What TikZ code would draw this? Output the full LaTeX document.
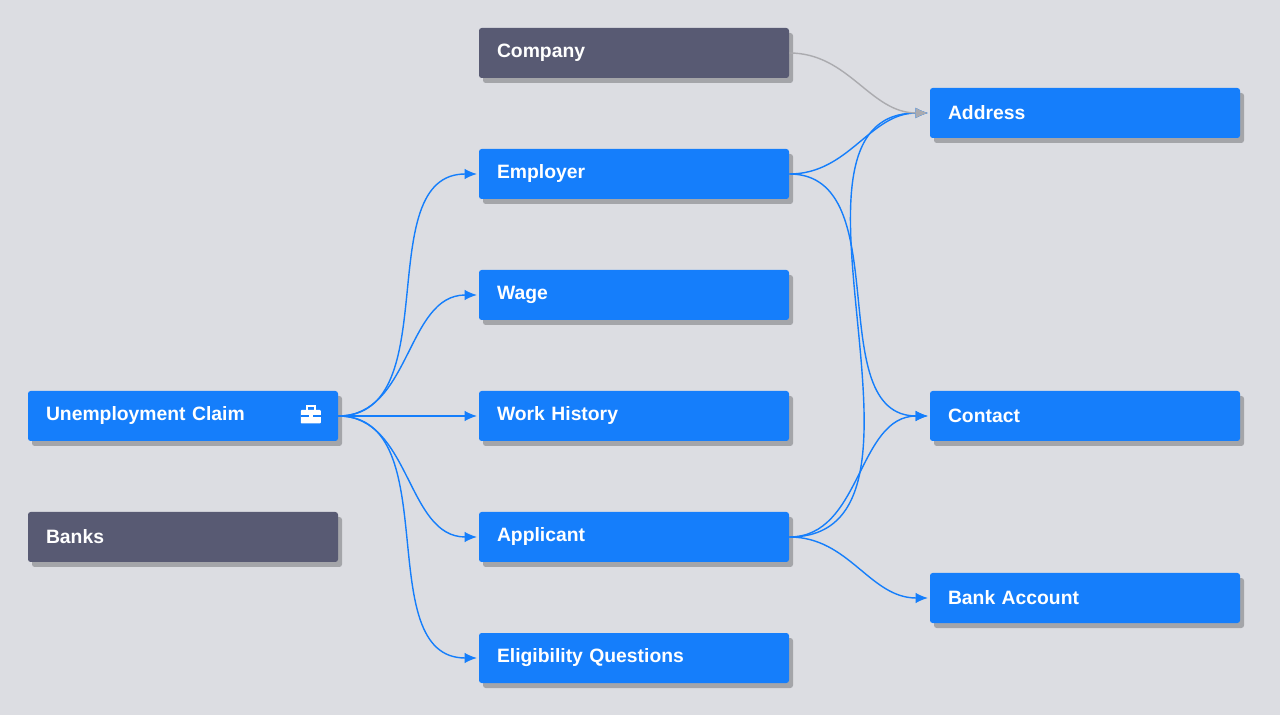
\documentclass[tikz,border=0pt]{standalone}
\usepackage{fontspec}
\setmainfont{Liberation Sans}
\usetikzlibrary{positioning,shadows,arrows.meta}
\definecolor{bgcol}{HTML}{DCDDE2}
\definecolor{entblue}{HTML}{157EFB}
\definecolor{entdark}{HTML}{585A73}
\definecolor{linkgray}{HTML}{ABABAF}
\tikzset{
  entity/.style={fill=entblue, text=white, rounded corners=1.5pt,
    minimum width=6.2cm, minimum height=1cm, text width=5.48cm,
    inner xsep=0.36cm, align=left, font=\fontsize{11}{13}\selectfont\bfseries,
    drop shadow={shadow xshift=0.08cm, shadow yshift=-0.1cm, opacity=0.25, fill=black}},
  other/.style={entity, fill=entdark},
  link/.style={-{Latex[length=7pt,width=6pt]}, entblue, thick, shorten >=1pt},
  greylink/.style={link, linkgray}
}
\begin{document}
\begin{tikzpicture}
  \useasboundingbox[fill=bgcol] (0,0) rectangle (25.6,-14.3);

  % left column
  \node[entity] (claim) at (3.66,-8.32) {Unemployment Claim};
  \node[other] (banks) at (3.66,-10.74) {Banks};

  % middle column
  \node[other] (company) at (12.68,-1.06) {Company};
  \node[entity] (employer) at (12.68,-3.48) {Employer};
  \node[entity] (wage) at (12.68,-5.90) {Wage};
  \node[entity] (history) at (12.68,-8.32) {Work History};
  \node[entity] (applicant) at (12.68,-10.74) {Applicant};
  \node[entity] (questions) at (12.68,-13.16) {Eligibility Questions};

  % right column
  \node[entity] (address) at (21.7,-2.26) {Address};
  \node[entity] (contact) at (21.7,-8.32) {Contact};
  \node[entity] (account) at (21.7,-11.96) {Bank Account};

  % briefcase icon
  \begin{scope}[shift={([xshift=-0.55cm]claim.east)}, white]
    \fill[rounded corners=0.5pt] (-0.2,-0.15) rectangle (0.2,0.12);
    \draw[line width=0.8pt] (-0.08,0.12) -- (-0.08,0.2) -- (0.08,0.2) -- (0.08,0.12);
    \draw[entblue, line width=0.6pt] (-0.2,0) -- (0.2,0);
    \fill (-0.04,-0.04) rectangle (0.04,0.04);
  \end{scope}

  % Draw edges
  \foreach \t in {employer,wage,history,applicant,questions}
    \draw[link] (claim.east) to[out=0,in=180] (\t.west);
  \foreach \t in {address,contact}
    \draw[link] (employer.east) to[out=0,in=180] (\t.west);
  \foreach \t in {address,contact,account}
    \draw[link] (applicant.east) to[out=0,in=180] (\t.west);
  \draw[greylink] (company.east) to[out=0,in=180] (address.west);
\end{tikzpicture}
\end{document}
